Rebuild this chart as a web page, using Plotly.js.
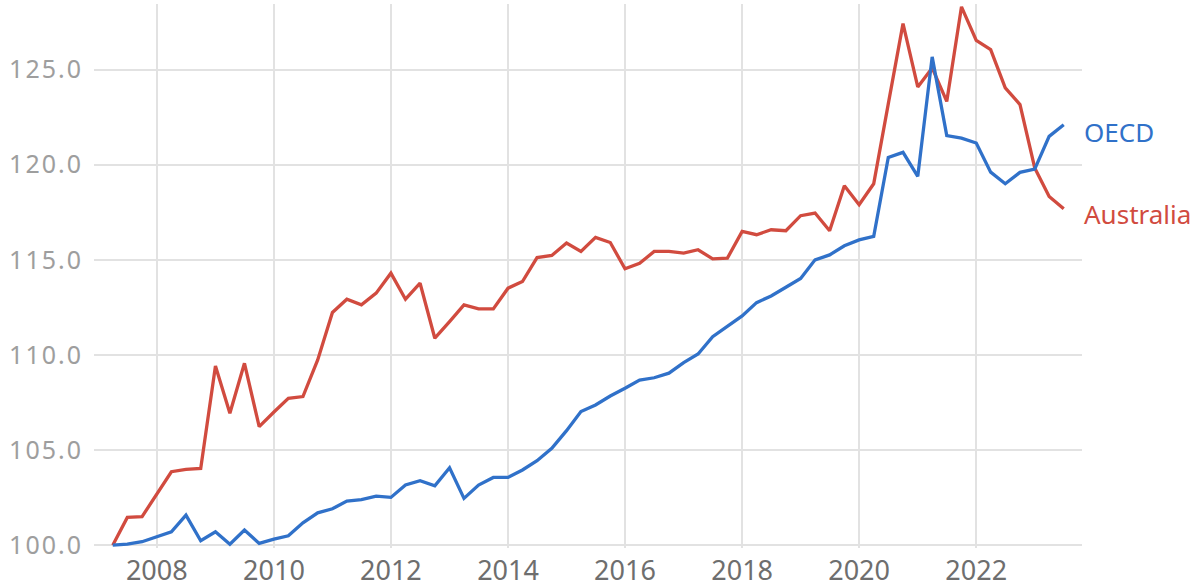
<!DOCTYPE html>
<html>
<head>
<meta charset="utf-8">
<script src="https://cdn.plot.ly/plotly-3.0.1.min.js"></script>
<style>
html,body{margin:0;padding:0;background:#fff;}
#chart{width:1204px;height:587px;}
.ytick text{letter-spacing:2px;}
</style>
</head>
<body>
<div id="chart"></div>
<script>
const quarters = [
"2007-04-01","2007-07-01","2007-10-01",
"2008-01-01","2008-04-01","2008-07-01","2008-10-01",
"2009-01-01","2009-04-01","2009-07-01","2009-10-01",
"2010-01-01","2010-04-01","2010-07-01","2010-10-01",
"2011-01-01","2011-04-01","2011-07-01","2011-10-01",
"2012-01-01","2012-04-01","2012-07-01","2012-10-01",
"2013-01-01","2013-04-01","2013-07-01","2013-10-01",
"2014-01-01","2014-04-01","2014-07-01","2014-10-01",
"2015-01-01","2015-04-01","2015-07-01","2015-10-01",
"2016-01-01","2016-04-01","2016-07-01","2016-10-01",
"2017-01-01","2017-04-01","2017-07-01","2017-10-01",
"2018-01-01","2018-04-01","2018-07-01","2018-10-01",
"2019-01-01","2019-04-01","2019-07-01","2019-10-01",
"2020-01-01","2020-04-01","2020-07-01","2020-10-01",
"2021-01-01","2021-04-01","2021-07-01","2021-10-01",
"2022-01-01","2022-04-01","2022-07-01","2022-10-01",
"2023-01-01","2023-04-01","2023-07-01"
];

const australia = [
100.0,101.46,101.5,
102.7,103.86,103.98,104.03,
109.42,106.93,109.56,106.23,
107.0,107.72,107.81,109.74,
112.23,112.93,112.63,113.25,
114.3,112.93,113.77,110.88,
111.75,112.63,112.42,112.42,
113.51,113.86,115.12,115.23,
115.88,115.44,116.18,115.91,
114.53,114.82,115.44,115.44,
115.35,115.53,115.05,115.09,
116.49,116.32,116.58,116.53,
117.32,117.46,116.53,118.89,
117.9,119.0,123.2,127.42,
124.09,125.09,123.33,128.3,
126.54,126.05,124.04,123.16,
119.83,118.33,117.68
];

const oecd = [
100.0,100.05,100.18,
100.44,100.7,101.58,100.23,
100.7,100.05,100.79,100.09,
100.32,100.49,101.17,101.7,
101.91,102.32,102.39,102.58,
102.51,103.16,103.39,103.12,
104.07,102.46,103.16,103.56,
103.56,103.95,104.44,105.09,
106.02,107.02,107.37,107.84,
108.25,108.68,108.8,109.04,
109.6,110.05,110.96,111.53,
112.05,112.75,113.1,113.56,
114.02,115.0,115.26,115.74,
116.05,116.23,120.38,120.65,
119.39,125.67,121.53,121.4,
121.14,119.61,119.0,119.6,
119.77,121.49,122.1
];

const seriesNames = ["OECD", "Australia"];
const yTickVals = [100, 105, 110, 115, 120, 125];

const blue = "#3071c9";
const red = "#d14b3f";

const traces = [
  {x: quarters, y: australia, name: seriesNames[1], type: "scatter", mode: "lines",
   line: {color: red, width: 3.3}, hoverinfo: "x+y"},
  {x: quarters, y: oecd, name: seriesNames[0], type: "scatter", mode: "lines",
   line: {color: blue, width: 3.3}, hoverinfo: "x+y"}
];

const n = quarters.length - 1;
const layout = {
  width: 1204, height: 587,
  margin: {l: 94, r: 122, t: 4, b: 39},
  paper_bgcolor: "#fff", plot_bgcolor: "#fff",
  showlegend: false,
  font: {family: "Noto Sans, Open Sans, sans-serif"},
  xaxis: {
    type: "date",
    range: ["2006-12-05", "2023-10-23"],
    tick0: "2008-01-01", dtick: "M24", tickformat: "%Y",
    showgrid: true, gridcolor: "#e2e2e2", gridwidth: 2,
    zeroline: false, showline: false, ticks: "",
    tickfont: {size: 27, color: "#6e6e6e"},
    ticklabelstandoff: 4
  },
  yaxis: {
    range: [99.85, 128.45],
    tickvals: yTickVals,
    ticktext: yTickVals.map(v => v.toFixed(1)),
    showgrid: true, gridcolor: "#e2e2e2", gridwidth: 2,
    zeroline: false, showline: false, ticks: "",
    tickfont: {size: 25, color: "#9e9e9e"},
    ticklabelstandoff: 10
  },
  annotations: [
    {x: quarters[n], y: oecd[n], text: seriesNames[0], xref: "x", yref: "y",
     xanchor: "left", yanchor: "middle", xshift: 18, yshift: -7, showarrow: false,
     font: {size: 26, color: blue}},
    {x: quarters[n], y: australia[n], text: seriesNames[1], xref: "x", yref: "y",
     xanchor: "left", yanchor: "middle", xshift: 18, yshift: -5, showarrow: false,
     font: {size: 26, color: red}}
  ]
};

Plotly.newPlot("chart", traces, layout, {displayModeBar: false, staticPlot: true});
</script>
</body>
</html>
